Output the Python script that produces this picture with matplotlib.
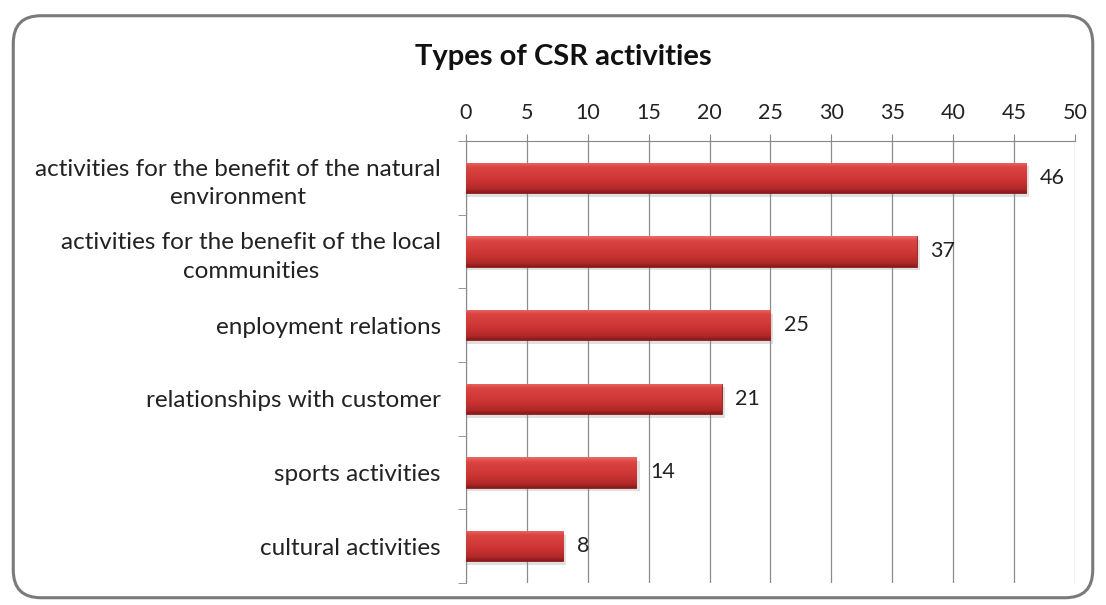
import numpy as np
import matplotlib.pyplot as plt
from matplotlib.patches import FancyBboxPatch
from matplotlib.colors import LinearSegmentedColormap

categories = ['activities for the benefit of the natural\nenvironment',
              'activities for the benefit of the local\ncommunities',
              'enployment relations',
              'relationships with customer',
              'sports activities',
              'cultural activities']
values = [46, 37, 25, 21, 14, 8]
x_ticks = [0, 5, 10, 15, 20, 25, 30, 35, 40, 45, 50]

plt.rcParams['font.family'] = ['Lato', 'DejaVu Sans']
label_size = 17.5
tick_size = 15.5

fig = plt.figure(figsize=(11.06, 6.05), dpi=100)

# rounded frame round the whole chart
frame = FancyBboxPatch((0.012, 0.012), 0.976, 0.962, boxstyle='round,pad=0,rounding_size=0.025',
                       transform=fig.transFigure, facecolor='white', edgecolor='#7a7a7a',
                       linewidth=2.2, mutation_aspect=1106 / 605, zorder=-1)
fig.patches.append(frame)

ax = fig.add_axes([0.4213, 0.0364, 0.5506, 0.7306])
ax.set_facecolor('none')

n = len(categories)
ypos = np.arange(n)
bar_h = 0.41

# red bar colour: light strip on top, darker rim at the bottom
red_cmap = LinearSegmentedColormap.from_list(
    'bar', [(0.0, '#e86b67'), (0.15, '#da4542'), (0.6, '#cb3432'), (0.88, '#b02828'), (1.0, '#861a1a')])
grad = np.linspace(0, 1, 64).reshape(-1, 1)

for y, v in zip(ypos, values):
    # soft shadow under the bar
    ax.barh(y + 0.05, v + 0.25, height=bar_h, left=0, color='#999999', alpha=0.3, zorder=2)
    bars = ax.barh(y, v, height=bar_h, color='#c42d2b', edgecolor='#8a1c1c', linewidth=0.6, zorder=3)
    im = ax.imshow(grad, cmap=red_cmap, aspect='auto', zorder=3.5,
                   extent=(0, v, y + bar_h / 2, y - bar_h / 2))
    im.set_clip_path(bars.patches[0])
    ax.text(v + 1.1, y, str(v), va='center', ha='left', fontsize=tick_size, color='#222222', zorder=4)

ax.set_xlim(0, 50)
ax.set_ylim(n - 0.5, -0.5)

ax.xaxis.tick_top()
ax.set_xticks(x_ticks)
ax.set_xticklabels([str(t) for t in x_ticks], fontsize=tick_size, color='#222222')
ax.tick_params(axis='x', length=5, color='#888888', pad=8)
ax.grid(axis='x', color='#8c8c8c', linewidth=0.9, zorder=1)

ax.set_yticks(ypos)
ax.set_yticklabels(categories, fontsize=label_size, color='#222222',
                   multialignment='center', linespacing=1.45)
ax.set_yticks(np.arange(n + 1) - 0.5, minor=True)
ax.tick_params(axis='y', which='major', length=0, pad=18)
ax.tick_params(axis='y', which='minor', length=6, color='#888888')

for side in ['right', 'bottom']:
    ax.spines[side].set_visible(False)
ax.spines['top'].set_color('#888888')
ax.spines['left'].set_color('#888888')
ax.set_axisbelow(True)

fig.text(0.509, 0.905, 'Types of CSR activities', ha='center', va='center',
         fontsize=21, fontweight='bold', color='#111111')

plt.savefig('out.png', dpi=100)
